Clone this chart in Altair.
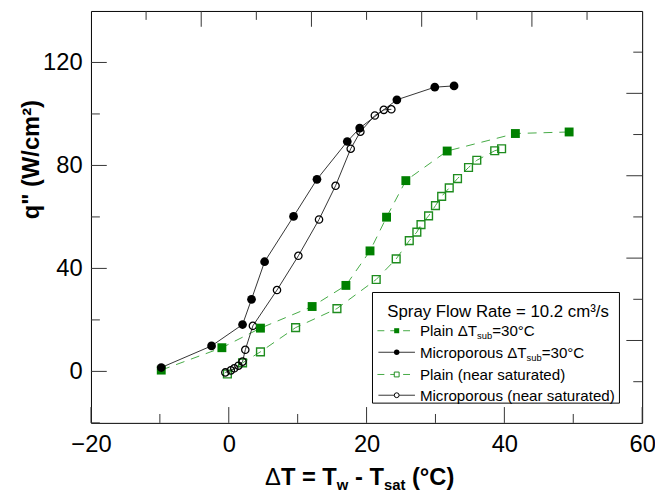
import altair as alt
import pandas as pd

# ---------------- data ----------------
plain30_dt = [-9.8, -1.0, 4.6, 12.1, 17.0, 20.5, 22.9, 25.7, 31.7, 41.6, 49.4]
plain30_q = [0.5, 9.2, 16.8, 25.2, 33.4, 46.8, 59.9, 74.1, 85.6, 92.4, 93.0]

micro30_dt = [-9.8, -2.5, 2.0, 3.3, 5.2, 9.4, 12.8, 17.2, 19.0, 24.4, 29.9, 32.7]
micro30_q = [1.5, 9.9, 18.2, 28.0, 42.6, 60.2, 74.6, 89.3, 94.5, 105.5, 110.4, 110.9]

plainsat_dt = [-0.2, 2.0, 4.6, 9.7, 15.7, 21.4, 24.3, 26.2, 27.3, 27.9, 29.0, 30.0,
               30.9, 32.0, 33.2, 34.8, 36.0, 38.6, 39.6]
plainsat_q = [-1.0, 3.3, 7.6, 17.0, 24.4, 35.7, 43.7, 50.8, 54.1, 57.0, 60.4, 64.4,
              68.0, 71.3, 74.9, 79.2, 82.0, 85.7, 86.5]

microsat_dt = [-0.5, 0.3, 0.8, 1.4, 2.0, 2.4, 3.5, 7.0, 10.1, 13.1, 15.5, 17.7,
               19.1, 21.2, 22.5, 23.6]
microsat_q = [-0.4, 0.4, 1.2, 2.2, 3.8, 8.4, 17.7, 31.6, 44.9, 59.0, 72.1, 86.5,
              93.1, 99.4, 101.6, 101.8]

x_ticks_major = [-20, 0, 20, 40, 60]
x_ticks_minor = [-10, 10, 30, 50]
y_ticks_major = [0, 40, 80, 120]
y_ticks_minor = [-20, 20, 60, 100]

legend_title = "Spray Flow Rate = 10.2 cm³/s"
legend_rows = [
    ("Plain ΔT", "sub", "=30°C"),
    ("Microporous ΔT", "sub", "=30°C"),
    ("Plain (near saturated)", "", ""),
    ("Microporous (near saturated)", "", ""),
]

# ---------------- layout / style ----------------
W, H = 558, 417
XMIN, XMAX = -20, 60
YMIN, YMAX = -20, 140
FONT = "Liberation Sans"
GREEN = "#008000"
GREEN_LINE = "#44aa44"
OPEN_GREEN = "#1e8c1e"
DARK = "#333333"

REG = {'P': 667, 'l': 222, 'a': 556, 'i': 222, 'n': 556, ' ': 278, 'Δ': 668, 'T': 611,
       'M': 833, 'c': 500, 'r': 333, 'o': 556, 'p': 556, 'u': 556, 's': 500, 'b': 556,
       '=': 584, '3': 556, '0': 556, '°': 400, 'C': 722}
BOLD = {'Δ': 668, 'T': 611, ' ': 278, '=': 584, '-': 333, '(': 333, '°': 400, 'C': 722,
        ')': 333, 'w': 778, 's': 556, 'a': 556, 't': 333}


def tw(s, fs, table):
    return sum(table.get(ch, 556) for ch in s) * fs / 1000.0


frames = []
for name, dts, qs in [("plain30", plain30_dt, plain30_q), ("micro30", micro30_dt, micro30_q),
                      ("plainsat", plainsat_dt, plainsat_q), ("microsat", microsat_dt, microsat_q)]:
    frames.append(pd.DataFrame({"dt": dts, "q": qs, "series": name, "idx": range(len(dts))}))
df = pd.concat(frames, ignore_index=True)

xs = alt.Scale(domain=[XMIN, XMAX], nice=False, zero=False)
ys = alt.Scale(domain=[YMIN, YMAX], nice=False, zero=False)

x_axis = alt.Axis(values=x_ticks_major, ticks=False, domain=False, grid=False, title=None,
                  labelFontSize=24, labelPadding=10, labelFont=FONT, labelColor="black",
                  labelFlush=False)
y_axis = alt.Axis(values=y_ticks_major, ticks=False, domain=False, grid=False,
                  title='q" (W/cm²)', titleFontSize=24, titleFontWeight="bold", titleFont=FONT,
                  titleColor="black", titleX=-53, titleY=150, titleAngle=-90,
                  titleAlign="center", titleBaseline="alphabetic",
                  labelFontSize=24, labelPadding=9, labelFont=FONT, labelColor="black")

X = alt.X("dt:Q", scale=xs, axis=x_axis)
Y = alt.Y("q:Q", scale=ys, axis=y_axis)

base = alt.Chart(df)
green_lines = base.transform_filter(
    alt.FieldOneOfPredicate(field="series", oneOf=["plain30", "plainsat"])
).mark_line(color=GREEN_LINE, strokeWidth=1, strokeDash=[9, 7]).encode(
    x=X, y=Y, detail="series:N", order="idx:Q")
black_lines = base.transform_filter(
    alt.FieldOneOfPredicate(field="series", oneOf=["micro30", "microsat"])
).mark_line(color=DARK, strokeWidth=1).encode(
    x=X, y=Y, detail="series:N", order="idx:Q")

p_plain30 = base.transform_filter(alt.datum.series == "plain30").mark_point(
    shape="square", filled=True, color=GREEN, size=81, opacity=1).encode(x=X, y=Y)
p_plainsat = base.transform_filter(alt.datum.series == "plainsat").mark_point(
    shape="square", filled=False, color=OPEN_GREEN, size=62, strokeWidth=1.4, opacity=1).encode(x=X, y=Y)
p_micro30 = base.transform_filter(alt.datum.series == "micro30").mark_point(
    shape="circle", filled=True, color="black", size=78, opacity=1).encode(x=X, y=Y)
p_microsat = base.transform_filter(alt.datum.series == "microsat").mark_point(
    shape="circle", filled=False, color="black", size=55, strokeWidth=1.3, opacity=1).encode(x=X, y=Y)


# ---------------- inward ticks (same scales and axes as the data) ----------------
def xticks(vals, length, top=False):
    d = pd.DataFrame({"dt": vals})
    if top:
        yy = dict(y=alt.value(0), y2=alt.value(length))
    else:
        yy = dict(y=alt.value(H), y2=alt.value(H - length))
    return alt.Chart(d).mark_rule(color=DARK, strokeWidth=1).encode(x=X, **yy)


def yticks(vals, length, right=False):
    d = pd.DataFrame({"q": vals})
    if right:
        xx = dict(x=alt.value(W), x2=alt.value(W - length))
    else:
        xx = dict(x=alt.value(0), x2=alt.value(length))
    return alt.Chart(d).mark_rule(color=DARK, strokeWidth=1).encode(y=Y, **xx)


top_vals = [XMIN + k * (XMAX - XMIN) / 10 for k in range(1, 10)]
right_vals = [YMIN + k * (YMAX - YMIN) / 10 for k in range(1, 10)]
tick_layers = [
    xticks(x_ticks_major, 16), xticks(x_ticks_minor, 9),
    yticks(y_ticks_major, 16), yticks(y_ticks_minor, 9),
    xticks(top_vals[1::2], 16, top=True), xticks(top_vals[0::2], 9, top=True),
    yticks(right_vals[1::2], 16, right=True), yticks(right_vals[0::2], 9, right=True),
]

# ---------------- text helpers ----------------
one = pd.DataFrame({"a": [0]})


def text(s, x, y, fs, weight="normal", align="left"):
    return alt.Chart(pd.DataFrame({"t": [s]})).mark_text(
        align=align, baseline="alphabetic", font=FONT, fontSize=fs, fontWeight=weight,
        color="black").encode(text="t:N", x=alt.value(x), y=alt.value(y))


# x-axis title: ΔT = T_w - T_sat (°C)
FS, FSS = 24, 15
SP = tw(" ", FS, BOLD)
w_main1 = tw("ΔT = T", FS, BOLD)
w_w = tw("w", FSS, BOLD)
w_2 = tw(" - T", FS, BOLD)
w_sat = tw("sat", FSS, BOLD)
w_3 = tw(" (°C)", FS, BOLD)
total = w_main1 + w_w + w_2 + w_sat + w_3
cx = 272
A = cx - total / 2 + w_main1
by, sby = 480, 485
xt = [
    text("T = T", A, by, FS, "bold", "right"),
    text("Δ", A - tw("T = T", FS, BOLD), by, FS, "normal", "right"),
    text("w", A, sby, FSS, "bold"),
    text("- T", A + w_w + SP, by, FS, "bold"),
    text("sat", A + w_w + w_2, sby, FSS, "bold"),
    text("(°C)", A + w_w + w_2 + w_sat + SP, by, FS, "bold"),
]

# ---------------- legend ----------------
LX0, LX1, LY0, LY1 = 285, 535, 285, 397
legend = [alt.Chart(one).mark_rect(fill="white", stroke="black", strokeWidth=1).encode(
    x=alt.value(LX0), x2=alt.value(LX1), y=alt.value(LY0), y2=alt.value(LY1))]
legend.append(text(legend_title, 300, 310, 17))
row_y = [323.7, 345.5, 368, 389]
LFS, LSS = 15.3, 9.5
tx0 = 333
for i, (main, sub, rest) in enumerate(legend_rows):
    yc = row_y[i]
    if i in (0, 2):
        legend.append(alt.Chart(one).mark_rule(color=GREEN_LINE, strokeWidth=1, strokeDash=[7, 6]).encode(
            x=alt.value(290), x2=alt.value(329), y=alt.value(yc)))
    else:
        legend.append(alt.Chart(one).mark_rule(color=DARK, strokeWidth=1).encode(
            x=alt.value(291), x2=alt.value(328), y=alt.value(yc)))
    if i == 0:
        mk = alt.Chart(one).mark_point(shape="square", filled=True, color=GREEN, size=26, opacity=1)
    elif i == 1:
        mk = alt.Chart(one).mark_point(shape="circle", filled=True, color="black", size=30, opacity=1)
    elif i == 2:
        mk = alt.Chart(one).mark_point(shape="square", filled=False, color=OPEN_GREEN, size=24,
                                       strokeWidth=1, fill="white", opacity=1)
    else:
        mk = alt.Chart(one).mark_point(shape="circle", filled=False, color="black", size=24,
                                       strokeWidth=1, fill="white", opacity=1)
    legend.append(mk.encode(x=alt.value(309.5), y=alt.value(yc)))
    bl = yc + 5.5
    legend.append(text(main, tx0, bl, LFS))
    if sub:
        x1 = tx0 + tw(main, LFS, REG)
        legend.append(text(sub, x1, bl + 3, LSS))
        legend.append(text(rest, x1 + tw(sub, LSS, REG), bl, LFS))

chart = alt.layer(
    green_lines, black_lines, p_plainsat, p_microsat, p_plain30, p_micro30,
    *tick_layers, *xt, *legend
).properties(
    width=W, height=H,
    autosize=alt.AutoSizeParams(type="none"),
    padding={"left": 84, "top": 0, "right": 13, "bottom": 70},
    background="white",
).configure_view(stroke="black", strokeWidth=1)

chart.save("out.html", embed_options={"renderer": "svg", "actions": False})
